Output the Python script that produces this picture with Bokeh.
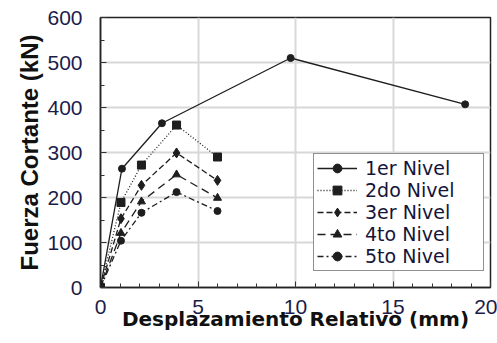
from bokeh.plotting import figure
from bokeh.models import Legend, LegendItem, Range1d, FixedTicker
from bokeh.embed import file_html
from bokeh.resources import INLINE

# Data
x1 = [0, 1.1, 3.15, 9.75, 18.7]
y1 = [0, 264, 365, 510, 407]
x2 = [0, 1.05, 2.1, 3.9, 6.0]
y2 = [0, 189, 272, 361, 290]
x3 = [0, 1.05, 2.1, 3.9, 6.0]
y3 = [0, 153, 227, 299, 238]
x4 = [0, 1.05, 2.1, 3.9, 6.0]
y4 = [0, 121, 191, 251, 199]
x5 = [0, 1.05, 2.1, 3.9, 6.0]
y5 = [0, 104, 166, 212, 170]
labels = ["1er Nivel", "2do Nivel", "3er Nivel", "4to Nivel", "5to Nivel"]
x_ticks = [0, 5, 10, 15, 20]
y_ticks = [0, 100, 200, 300, 400, 500, 600]

p = figure(width=497, height=343, output_backend="svg", toolbar_location=None,
           x_range=Range1d(0, 20), y_range=Range1d(0, 600),
           min_border_left=100, min_border_right=7, min_border_top=17, min_border_bottom=56)
p.background_fill_color = "white"
p.border_fill_color = "white"
p.outline_line_color = "#222222"
p.outline_line_width = 1.5

p.xaxis.ticker = FixedTicker(ticks=x_ticks, minor_ticks=list(range(0, 21)))
p.yaxis.ticker = FixedTicker(ticks=y_ticks, minor_ticks=list(range(0, 601, 50)))

for ax in (p.xaxis[0], p.yaxis[0]):
    ax.axis_line_color = "#222222"
    ax.axis_line_width = 1.5
    ax.major_tick_in = 6
    ax.major_tick_out = 0
    ax.minor_tick_in = 4
    ax.minor_tick_out = 0
    ax.major_tick_line_color = "#333333"
    ax.minor_tick_line_color = "#333333"
    ax.major_label_text_font = "Liberation Sans"
    ax.major_label_text_font_size = "21px"
    ax.major_label_text_color = "#1c1c4a"
    ax.axis_label_text_font_style = "bold"
    ax.axis_label_text_color = "#111111"

p.xaxis.axis_label = "Desplazamiento Relativo (mm)"
p.yaxis.axis_label = "Fuerza Cortante (kN)"
p.xaxis.axis_label_text_font = "DejaVu Sans"
p.xaxis.axis_label_text_font_size = "20px"
p.yaxis.axis_label_text_font = "Liberation Sans"
p.yaxis.axis_label_text_font_size = "24px"
p.xaxis.major_label_standoff = 12
p.xaxis.axis_label_standoff = -10
p.yaxis.major_label_standoff = 18
p.yaxis.axis_label_standoff = 1

p.xgrid.ticker = FixedTicker(ticks=[5, 10, 15])
p.ygrid.ticker = FixedTicker(ticks=[100, 200, 300, 400, 500])
p.grid.grid_line_color = "#d8d8d8"
p.grid.grid_line_width = 2

c = "#1e1e1e"
r1l = p.line(x1, y1, line_color=c, line_width=1.3)
r1m = p.scatter(x1, y1, marker="circle", size=7, color=c)
r2l = p.line(x2, y2, line_color=c, line_width=1.3, line_dash="1 2")
r2m = p.scatter(x2, y2, marker="square", size=8, color=c)
r3l = p.line(x3, y3, line_color=c, line_width=1.3, line_dash="6 3")
r3m = p.scatter(x3, y3, marker="diamond", size=10, color=c)
r4l = p.line(x4, y4, line_color=c, line_width=1.3, line_dash="8 5")
r4m = p.scatter(x4, y4, marker="triangle", size=8, color=c)
r5l = p.line(x5, y5, line_color=c, line_width=1.3, line_dash="6 3 2 3")
r5m = p.scatter(x5, y5, marker="circle", size=7, color=c)

items = [LegendItem(label=labels[0], renderers=[r1l, r1m]),
         LegendItem(label=labels[1], renderers=[r2l, r2m]),
         LegendItem(label=labels[2], renderers=[r3l, r3m]),
         LegendItem(label=labels[3], renderers=[r4l, r4m]),
         LegendItem(label=labels[4], renderers=[r5l, r5m])]
legend = Legend(items=items, location=(213, 16), padding=3, spacing=0, margin=0,
                label_height=22, glyph_height=22, glyph_width=40, label_standoff=8,
                label_width=115,
                label_text_font="DejaVu Sans", label_text_font_size="19px",
                label_text_color="#15153a",
                border_line_color="#222222", border_line_width=1.5,
                background_fill_color="white", background_fill_alpha=1)
p.add_layout(legend)

open("out.html", "w").write(file_html(p, INLINE))
